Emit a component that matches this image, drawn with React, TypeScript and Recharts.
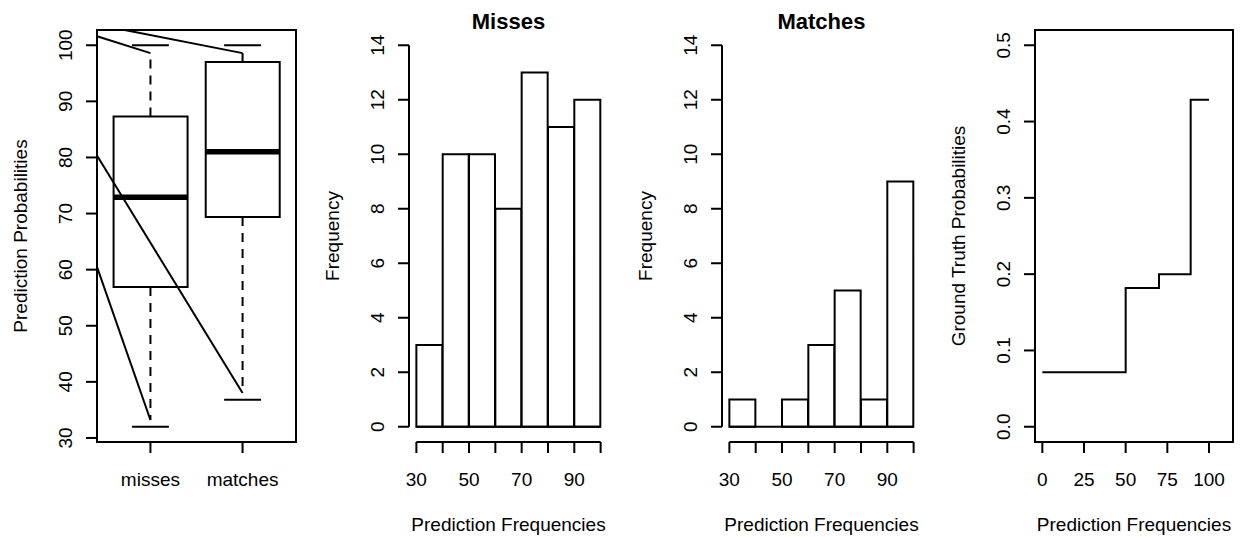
import React from 'react';
import { ComposedChart, Bar, Line, XAxis, YAxis, ReferenceLine, ReferenceArea } from 'recharts';

// ---- boxplot: prediction probabilities by group ----
const groups = ['misses', 'matches'];
const q1 = [56.9, 69.4];
const median = [72.9, 81.0];
const q3 = [87.3, 97.0];
const whiskerLow = [33.2, 38.0];
const whiskerHigh = [98.6, 98.6];
const capLow = [32.0, 36.8];
const capHigh = [100, 100];
const probTicksPct = [30, 40, 50, 60, 70, 80, 90, 100];
// the stray line segments drawn over the boxplot (start -> end, data units)
const strayStartX = [0.42, 0.72, 0.42, 0.42];
const strayStartY = [101.6, 102.72, 80.35, 60.5];
const strayEndX = [1, 2, 2, 1];
const strayEndY = [98.6, 98.6, 38.0, 33.2];

// ---- histograms ----
const binStarts = [30, 40, 50, 60, 70, 80, 90];
const binWidth = 10;
const missCounts = [3, 10, 10, 8, 13, 11, 12];
const matchCounts = [1, 0, 1, 3, 5, 1, 9];
const histTicks = [30, 40, 50, 60, 70, 80, 90, 100];
const histLabels = [30, 50, 70, 90];
const countTicks = [0, 2, 4, 6, 8, 10, 12, 14];

// ---- step plot ----
const predFreq = [0, 50, 70, 89, 100];
const truthProb = [0.0714, 0.1818, 0.2, 0.4286, 0.4286];
const stepXTicks = [0, 25, 50, 75, 100];
const stepYTicks = [0, 0.1, 0.2, 0.3, 0.4, 0.5];

const FONT = '"Liberation Sans", Arial, Helvetica, sans-serif';
const FS = 19;
const W = 311;
const H = 537;
const TOP = 30;
const XAXIS_H = 95;
const X_TICK_BASE = 486;
const X_TITLE_BASE = 531;
const MAIN_BASE = 29;
const LW = 2;

const txt = { fontFamily: FONT, fontSize: FS, fill: '#000' };

const yTick = (baseX: number, fmt: (v: number) => string) => (props: any) => {
  const { y, payload } = props;
  return (
    <text x={baseX} y={y} transform={`rotate(-90 ${baseX} ${y})`} textAnchor="middle" {...txt}>
      {fmt(payload.value)}
    </text>
  );
};

const xTick = (fmt: (v: number) => string) => (props: any) => {
  const { x, payload } = props;
  const s = fmt(payload.value);
  if (!s) return <g />;
  return (
    <text x={x} y={X_TICK_BASE} textAnchor="middle" {...txt}>
      {s}
    </text>
  );
};

const YTitle = ({ x, text }: { x: number; text: string }) => {
  const cy = (TOP + (H - XAXIS_H)) / 2;
  return (
    <text x={x} y={cy} transform={`rotate(-90 ${x} ${cy})`} textAnchor="middle" {...txt}>
      {text}
    </text>
  );
};

const BoxPanel = () => {
  const plotLeft = 97;
  const plotRight = 296;
  const dom: [number, number] = [0.42, 2.58];
  const pad = ((plotRight - plotLeft) * 0.08) / (dom[1] - dom[0]);
  const rows = groups.map((name, i) => ({ name, pos: i + 1, q1: q1[i], q3: q3[i] }));
  return (
    <ComposedChart width={W} height={H} data={rows} margin={{ top: TOP, right: W - plotRight, bottom: 0, left: 0 }} barCategoryGap="10%">
      <XAxis
        xAxisId="num"
        dataKey="pos"
        type="number"
        domain={dom}
        ticks={[1, 2]}
        interval={0}
        allowDataOverflow
        height={XAXIS_H}
        axisLine={false}
        stroke="#000"
        tickLine={{ stroke: '#000', strokeWidth: LW }}
        tickSize={11}
        tick={xTick((v) => groups[v - 1] ?? '')}
      />
      <XAxis xAxisId="cat" dataKey="name" hide height={0} padding={{ left: pad, right: pad }} />
      <YAxis
        type="number"
        domain={[29.28, 102.72]}
        ticks={probTicksPct}
        interval={0}
        allowDataOverflow
        width={plotLeft}
        axisLine={false}
        stroke="#000"
        tickLine={{ stroke: '#000', strokeWidth: LW }}
        tickSize={11}
        tick={yTick(plotLeft - 25, (v) => String(v))}
      />
      <Bar xAxisId="cat" dataKey={(d: any) => [d.q1, d.q3]} fill="#fff" stroke="#000" strokeWidth={LW} isAnimationActive={false} />
      {groups.map((g, i) => {
        const x = i + 1;
        return (
          <React.Fragment key={g}>
            <ReferenceLine xAxisId="num" segment={[{ x, y: q3[i] }, { x, y: whiskerHigh[i] }]} stroke="#000" strokeWidth={LW} strokeDasharray="9 7" ifOverflow="visible" />
            <ReferenceLine xAxisId="num" segment={[{ x, y: q1[i] }, { x, y: whiskerLow[i] }]} stroke="#000" strokeWidth={LW} strokeDasharray="9 7" ifOverflow="visible" />
            <ReferenceLine xAxisId="num" segment={[{ x: x - 0.2, y: capHigh[i] }, { x: x + 0.2, y: capHigh[i] }]} stroke="#000" strokeWidth={LW} ifOverflow="visible" />
            <ReferenceLine xAxisId="num" segment={[{ x: x - 0.2, y: capLow[i] }, { x: x + 0.2, y: capLow[i] }]} stroke="#000" strokeWidth={LW} ifOverflow="visible" />
            <ReferenceLine xAxisId="num" segment={[{ x: x - 0.4, y: median[i] }, { x: x + 0.4, y: median[i] }]} stroke="#000" strokeWidth={5.5} ifOverflow="visible" />
          </React.Fragment>
        );
      })}
      {strayStartX.map((sx, i) => (
        <ReferenceLine
          key={`s${i}`}
          xAxisId="num"
          segment={[{ x: sx, y: strayStartY[i] }, { x: strayEndX[i], y: strayEndY[i] }]}
          stroke="#000"
          strokeWidth={LW}
          ifOverflow="visible"
        />
      ))}
      <ReferenceArea xAxisId="num" x1={dom[0]} x2={dom[1]} y1={29.28} y2={102.72} fill="none" fillOpacity={0} stroke="#000" strokeWidth={LW} ifOverflow="visible" />
      <YTitle x={plotLeft - 70.5} text="Prediction Probabilities" />
    </ComposedChart>
  );
};

const HistPanel = ({ title, counts, plotLeft, plotRight }: { title: string; counts: number[]; plotLeft: number; plotRight: number }) => {
  const dom: [number, number] = [27.2, 102.8];
  const pad = ((plotRight - plotLeft) * (binStarts[0] - dom[0])) / (dom[1] - dom[0]);
  const yDom: [number, number] = [-0.56, 14.56];
  const lo = binStarts[0];
  const hi = binStarts[binStarts.length - 1] + binWidth;
  const rows = binStarts.map((b, i) => ({ bin: `${b}-${b + binWidth}`, mid: b + binWidth / 2, count: counts[i] }));
  return (
    <ComposedChart width={W} height={H} data={rows} margin={{ top: TOP, right: W - plotRight, bottom: 0, left: 0 }} barCategoryGap={0} barGap={0}>
      <XAxis
        xAxisId="num"
        dataKey="mid"
        type="number"
        domain={dom}
        ticks={histTicks}
        interval={0}
        allowDataOverflow
        height={XAXIS_H}
        axisLine={false}
        stroke="#000"
        tickLine={{ stroke: '#000', strokeWidth: LW }}
        tickSize={11}
        tick={xTick((v) => (histLabels.includes(v) ? String(v) : ''))}
      />
      <XAxis xAxisId="cat" dataKey="bin" hide height={0} padding={{ left: pad, right: pad }} />
      <YAxis
        type="number"
        domain={yDom}
        ticks={countTicks}
        interval={0}
        allowDataOverflow
        width={plotLeft}
        axisLine={false}
        stroke="#000"
        tickLine={{ stroke: '#000', strokeWidth: LW }}
        tickSize={11}
        tick={yTick(plotLeft - 25, (v) => String(v))}
      />
      <Bar xAxisId="cat" dataKey="count" fill="#fff" stroke="#000" strokeWidth={LW} isAnimationActive={false} />
      <ReferenceLine xAxisId="num" segment={[{ x: lo, y: 0 }, { x: hi, y: 0 }]} stroke="#000" strokeWidth={LW} ifOverflow="visible" />
      <ReferenceLine xAxisId="num" segment={[{ x: lo, y: yDom[0] }, { x: hi, y: yDom[0] }]} stroke="#000" strokeWidth={LW} ifOverflow="visible" />
      <ReferenceLine xAxisId="num" segment={[{ x: dom[0], y: countTicks[0] }, { x: dom[0], y: countTicks[countTicks.length - 1] }]} stroke="#000" strokeWidth={LW} ifOverflow="visible" />
      <text x={(plotLeft + plotRight) / 2} y={MAIN_BASE} textAnchor="middle" fontFamily={FONT} fontSize={22} fontWeight="bold" fill="#000">
        {title}
      </text>
      <text x={(plotLeft + plotRight) / 2} y={X_TITLE_BASE} textAnchor="middle" {...txt}>
        Prediction Frequencies
      </text>
      <YTitle x={plotLeft - 70.5} text="Frequency" />
    </ComposedChart>
  );
};

const StepPanel = () => {
  const plotLeft = 102;
  const plotRight = 300;
  const dom: [number, number] = [-4.4, 114.4];
  const yDom: [number, number] = [-0.02, 0.52];
  const rows = predFreq.map((x, i) => ({ x, p: truthProb[i] }));
  return (
    <ComposedChart width={W} height={H} data={rows} margin={{ top: TOP, right: W - plotRight, bottom: 0, left: 0 }}>
      <XAxis
        dataKey="x"
        type="number"
        domain={dom}
        ticks={stepXTicks}
        interval={0}
        allowDataOverflow
        height={XAXIS_H}
        axisLine={false}
        stroke="#000"
        tickLine={{ stroke: '#000', strokeWidth: LW }}
        tickSize={11}
        tick={xTick((v) => String(v))}
      />
      <YAxis
        type="number"
        domain={yDom}
        ticks={stepYTicks}
        interval={0}
        allowDataOverflow
        width={plotLeft}
        axisLine={false}
        stroke="#000"
        tickLine={{ stroke: '#000', strokeWidth: LW }}
        tickSize={11}
        tick={yTick(plotLeft - 25, (v) => v.toFixed(1))}
      />
      <Line dataKey="p" type="stepAfter" stroke="#000" strokeWidth={LW} dot={false} isAnimationActive={false} />
      <ReferenceArea x1={dom[0]} x2={dom[1]} y1={yDom[0]} y2={yDom[1]} fill="none" fillOpacity={0} stroke="#000" strokeWidth={LW} ifOverflow="visible" />
      <text x={(plotLeft + plotRight) / 2} y={X_TITLE_BASE} textAnchor="middle" {...txt}>
        Prediction Frequencies
      </text>
      <YTitle x={plotLeft - 70.5} text="Ground Truth Probabilities" />
    </ComposedChart>
  );
};

const App = () => (
  <div style={{ position: 'absolute', left: 0, top: 0, width: 1244, height: 537, background: '#fff', overflow: 'hidden' }}>
    <div style={{ position: 'absolute', left: 0, top: 0 }}>
      <BoxPanel />
    </div>
    <div style={{ position: 'absolute', left: 311, top: 0 }}>
      <HistPanel title="Misses" counts={missCounts} plotLeft={98} plotRight={297} />
    </div>
    <div style={{ position: 'absolute', left: 622, top: 0 }}>
      <HistPanel title="Matches" counts={matchCounts} plotLeft={100} plotRight={299} />
    </div>
    <div style={{ position: 'absolute', left: 933, top: 0 }}>
      <StepPanel />
    </div>
  </div>
);

export default App;
